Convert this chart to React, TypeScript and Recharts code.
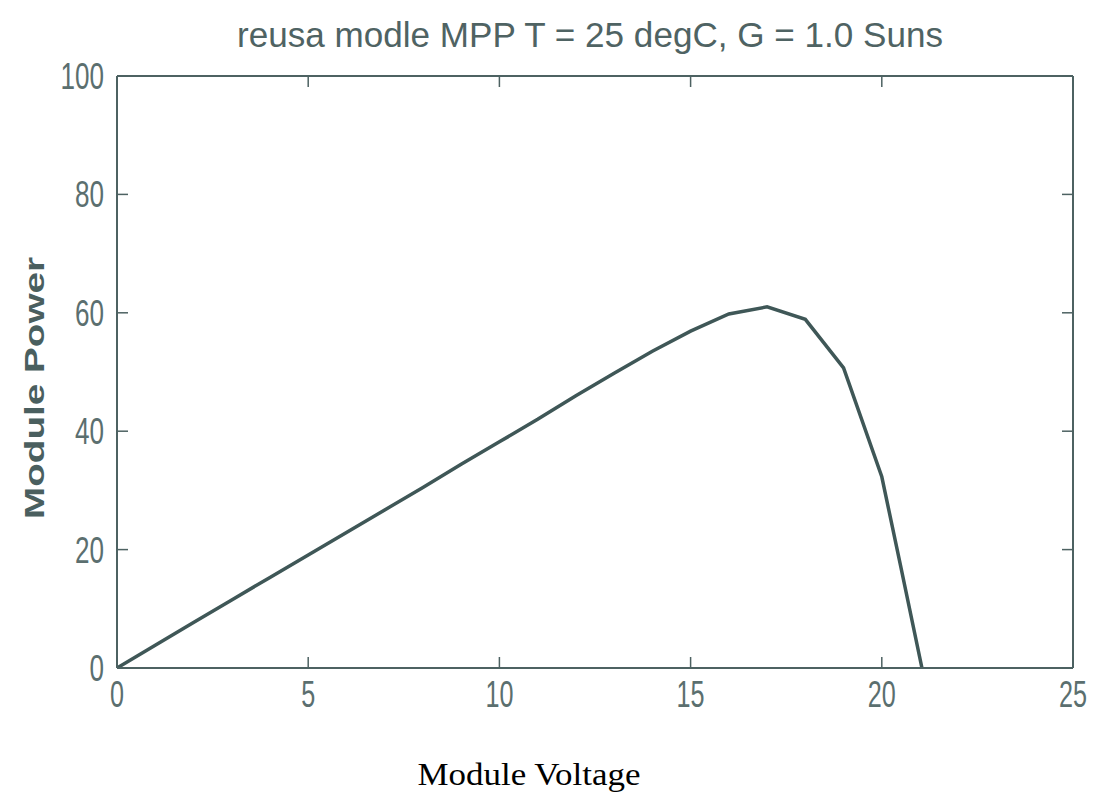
import React from 'react';
import { LineChart, Line, XAxis, YAxis } from 'recharts';

const voltage = [0, 1, 2, 3, 4, 5, 6, 7, 8, 9, 10, 11, 12, 13, 14, 15, 16, 17, 18, 19, 20, 20.5, 21.05];
const power = [0, 3.85, 7.7, 11.5, 15.3, 19.1, 22.9, 26.7, 30.5, 34.4, 38.2, 42.0, 46.0, 49.8, 53.5, 56.9, 59.8, 61.0, 58.9, 50.7, 32.3, 17.0, 0];
const xTicks = [0, 5, 10, 15, 20, 25];
const yTicks = [0, 20, 40, 60, 80, 100];

const data = voltage.map((v, i) => ({ v, p: power[i] }));

const AXIS = '#4d6262';
const TEXT = '#5b6f6f';
const LINE = '#3f5757';
const TICK_FONT = "'Liberation Sans Narrow', 'Arial Narrow', 'Liberation Sans', Arial, sans-serif";
const TL = 10;

const BottomTick = (props: any) => {
  const { x, y, payload } = props;
  const s = String(payload.value);
  return (
    <g>
      <line x1={x} y1={y - 1} x2={x} y2={y - 1 - TL} stroke={AXIS} strokeWidth={1.5} />
      <text x={x} y={y + 39} textAnchor="middle" fill={TEXT} fontSize={36} fontFamily={TICK_FONT}
        textLength={14 * s.length} lengthAdjust="spacingAndGlyphs">{s}</text>
    </g>
  );
};

const TopTick = (props: any) => {
  const { x, y } = props;
  return <line x1={x} y1={y + 1} x2={x} y2={y + 1 + TL} stroke={AXIS} strokeWidth={1.5} />;
};

const LeftTick = (props: any) => {
  const { x, y, payload } = props;
  const s = String(payload.value);
  return (
    <g>
      <line x1={x + 1} y1={y} x2={x + 1 + TL} y2={y} stroke={AXIS} strokeWidth={1.5} />
      <text x={x - 13} y={y + 13} textAnchor="end" fill={TEXT} fontSize={36} fontFamily={TICK_FONT}
        textLength={14.5 * s.length} lengthAdjust="spacingAndGlyphs">{s}</text>
    </g>
  );
};

const RightTick = (props: any) => {
  const { x, y } = props;
  return <line x1={x - 1} y1={y} x2={x - 1 - TL} y2={y} stroke={AXIS} strokeWidth={1.5} />;
};

export default function App() {
  return (
    <div style={{ position: 'absolute', left: 0, top: 0, width: 1098, height: 801, background: '#fff' }}>
      <LineChart width={1098} height={801} data={data}
        margin={{ top: 75, left: 116, right: 24, bottom: 132 }}>
        <XAxis dataKey="v" type="number" domain={[0, 25]} ticks={xTicks} interval={0}
          height={1} tickSize={0} tickMargin={0} tickLine={false}
          axisLine={{ stroke: AXIS, strokeWidth: 2 }} tick={<BottomTick />} allowDataOverflow />
        <XAxis xAxisId="top" orientation="top" dataKey="v" type="number" domain={[0, 25]} ticks={xTicks} interval={0}
          height={1} tickSize={0} tickMargin={0} tickLine={false}
          axisLine={{ stroke: AXIS, strokeWidth: 2 }} tick={<TopTick />} allowDataOverflow />
        <YAxis type="number" domain={[0, 100]} ticks={yTicks} interval={0}
          width={1} tickSize={0} tickMargin={0} tickLine={false}
          axisLine={{ stroke: AXIS, strokeWidth: 2 }} tick={<LeftTick />} allowDataOverflow />
        <YAxis yAxisId="right" orientation="right" type="number" domain={[0, 100]} ticks={yTicks} interval={0}
          width={1} tickSize={0} tickMargin={0} tickLine={false}
          axisLine={{ stroke: AXIS, strokeWidth: 2 }} tick={<RightTick />} allowDataOverflow />
        <Line dataKey="p" type="linear" stroke={LINE} strokeWidth={3.5} dot={false} isAnimationActive={false} />
      </LineChart>
      <svg width={1098} height={801} style={{ position: 'absolute', left: 0, top: 0, pointerEvents: 'none' }}>
        <text x={590} y={47} textAnchor="middle" fill="#4f6363" fontSize={35} fontFamily={TICK_FONT}
          textLength={706} lengthAdjust="spacingAndGlyphs">reusa modle MPP  T = 25 degC, G = 1.0 Suns</text>
        <text transform="translate(44, 388) rotate(-90)" textAnchor="middle" fill="#4a5f5f" fontSize={28}
          fontWeight="bold" fontFamily="'Liberation Sans', Arial, sans-serif"
          textLength={262} lengthAdjust="spacingAndGlyphs">Module Power</text>
        <text x={529} y={785} textAnchor="middle" fill="#000" fontSize={32}
          fontFamily="'Liberation Serif', 'Times New Roman', serif"
          textLength={223} lengthAdjust="spacingAndGlyphs">Module Voltage</text>
      </svg>
    </div>
  );
}
